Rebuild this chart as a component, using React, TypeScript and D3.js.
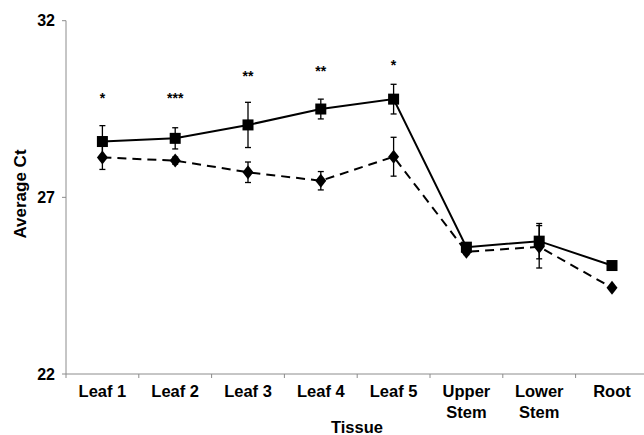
import * as d3 from "d3";

const categories = ["Leaf 1", "Leaf 2", "Leaf 3", "Leaf 4", "Leaf 5", "Upper Stem", "Lower Stem", "Root"];
const squareMeans = [28.58, 28.67, 29.05, 29.5, 29.78, 25.59, 25.76, 25.07];
const squareErr = [0.45, 0.3, 0.64, 0.28, 0.42, 0.08, 0.5, 0.05];
const diamondMeans = [28.13, 28.04, 27.71, 27.47, 28.15, 25.46, 25.6, 24.44];
const diamondErr = [0.34, 0.1, 0.29, 0.26, 0.55, 0.08, 0.6, 0.05];
const stars = ["*", "***", "**", "**", "*", "", "", ""];
const starLevels = [29.89, 29.89, 30.52, 30.66, 30.83, 0, 0, 0];
const yTicks = [22, 27, 32];

const W = 644;
const H = 435;
const FONT = "'Liberation Sans', Arial, sans-serif";

export default function App() {
  const x = d3.scaleBand().domain(categories).range([66, 648.4]).padding(0);
  const y = d3.scaleLinear().domain([22, 32]).range([374, 20.7]);
  const cx = (c: string) => (x(c) ?? 0) + x.bandwidth() / 2;

  const line = d3
    .line<number>()
    .x((_, i) => cx(categories[i]))
    .y((d) => y(d));

  const errorBars = (means: number[], errs: number[]) =>
    means.map((m, i) => {
      const px = cx(categories[i]);
      const top = y(m + errs[i]);
      const bot = y(m - errs[i]);
      return (
        <g key={i} stroke="#000" strokeWidth={1.3}>
          <line x1={px} x2={px} y1={top} y2={bot} />
          <line x1={px - 3} x2={px + 3} y1={top} y2={top} />
          <line x1={px - 3} x2={px + 3} y1={bot} y2={bot} />
        </g>
      );
    });

  const diamond = "M0,-7L5.5,0L0,7L-5.5,0Z";

  return (
    <div style={{ position: "absolute", left: 0, top: 0 }}>
      <svg width={W} height={H} style={{ display: "block", background: "#fff" }}>
        {/* axes */}
        <g stroke="#8c8c8c" strokeWidth={1}>
          <line x1={66} x2={66} y1={y(32)} y2={y(22)} />
          <line x1={66} x2={W} y1={y(22)} y2={y(22)} />
          {yTicks.map((t) => (
            <line key={t} x1={62} x2={66} y1={y(t)} y2={y(t)} />
          ))}
          {categories.map((c) => (
            <line key={c} x1={x(c)} x2={x(c)} y1={y(22)} y2={y(22) + 4} />
          ))}
        </g>
        {yTicks.map((t) => (
          <text
            key={t}
            x={55}
            y={y(t) + 5.5}
            textAnchor="end"
            fontFamily={FONT}
            fontWeight="bold"
            fontSize={16}
          >
            {t}
          </text>
        ))}
        {categories.map((c) => {
          const parts = c.split(" ");
          const lines = c.startsWith("Leaf") || c === "Root" ? [c] : parts;
          return (
            <text key={c} textAnchor="middle" fontFamily={FONT} fontWeight="bold" fontSize={16.5}>
              {lines.map((l, j) => (
                <tspan key={j} x={cx(c)} y={397 + j * 21}>
                  {l}
                </tspan>
              ))}
            </text>
          );
        })}
        <text x={357} y={433} textAnchor="middle" fontFamily={FONT} fontWeight="bold" fontSize={16.5}>
          Tissue
        </text>
        <text
          transform="translate(26,194) rotate(-90)"
          textAnchor="middle"
          fontFamily={FONT}
          fontWeight="bold"
          fontSize={17}
        >
          Average Ct
        </text>

        {/* series */}
        <path d={line(diamondMeans) ?? ""} fill="none" stroke="#000" strokeWidth={2} strokeDasharray="9,6" />
        <path d={line(squareMeans) ?? ""} fill="none" stroke="#000" strokeWidth={2} />
        {errorBars(diamondMeans, diamondErr)}
        {errorBars(squareMeans, squareErr)}
        {diamondMeans.map((m, i) => (
          <path key={i} d={diamond} transform={`translate(${cx(categories[i])},${y(m)})`} fill="#000" />
        ))}
        {squareMeans.map((m, i) => (
          <rect key={i} x={cx(categories[i]) - 5.5} y={y(m) - 5.5} width={11} height={11} fill="#000" />
        ))}
        {stars.map((s, i) =>
          s ? (
            <text
              key={i}
              x={cx(categories[i])}
              y={y(starLevels[i]) + 8}
              textAnchor="middle"
              fontFamily={FONT}
              fontWeight="bold"
              fontSize={14}
            >
              {s}
            </text>
          ) : null
        )}
      </svg>
    </div>
  );
}
